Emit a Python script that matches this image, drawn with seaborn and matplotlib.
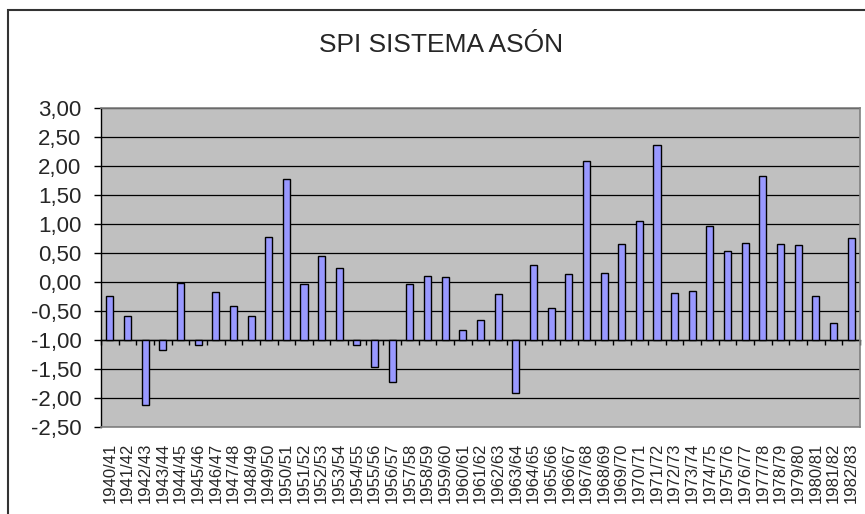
import numpy as np
import pandas as pd
import seaborn as sns
import matplotlib.pyplot as plt
from matplotlib.ticker import FuncFormatter, FixedLocator
from matplotlib.patches import Rectangle

# años hidrológicos y valores del SPI
anios = ['1940/41', '1941/42', '1942/43', '1943/44', '1944/45', '1945/46', '1946/47',
         '1947/48', '1948/49', '1949/50', '1950/51', '1951/52', '1952/53', '1953/54',
         '1954/55', '1955/56', '1956/57', '1957/58', '1958/59', '1959/60', '1960/61',
         '1961/62', '1962/63', '1963/64', '1964/65', '1965/66', '1966/67', '1967/68',
         '1968/69', '1969/70', '1970/71', '1971/72', '1972/73', '1973/74', '1974/75',
         '1975/76', '1976/77', '1977/78', '1978/79', '1979/80', '1980/81', '1981/82',
         '1982/83']
spi = [-0.24, -0.59, -2.12, -1.18, -0.01, -1.09, -0.17,
       -0.42, -0.59, 0.77, 1.78, -0.03, 0.45, 0.24,
       -1.09, -1.46, -1.72, -0.03, 0.11, 0.08, -0.82,
       -0.66, -0.21, -1.92, 0.29, -0.45, 0.13, 2.09,
       0.15, 0.66, 1.05, 2.36, -0.19, -0.15, 0.96,
       0.54, 0.68, 1.83, 0.66, 0.64, -0.24, -0.70,
       0.75]
base = -1.0  # el eje de categorías cruza en -1

df = pd.DataFrame({'Año': anios, 'SPI': spi})
df['alto'] = df['SPI'] - base

sns.set_style('white')
plt.rcParams['font.family'] = ['Liberation Sans', 'DejaVu Sans']

fig = plt.figure(figsize=(8.65, 5.14), dpi=100)
ax = fig.add_axes([0.1168, 0.1693, 0.8774, 0.6206])
ax.set_facecolor('#C0C0C0')

sns.barplot(x='Año', y='alto', data=df, ax=ax, bottom=base, width=0.4,
            color='#9999FF', edgecolor='black', linewidth=1, saturation=1)

ax.set_xlim(-0.5, len(anios) - 0.5)
ax.set_ylim(-2.5, 3.0)
ax.yaxis.set_major_locator(FixedLocator(np.arange(-2.5, 3.01, 0.5)))
ax.yaxis.set_major_formatter(FuncFormatter(lambda v, p: f'{v:.2f}'.replace('.', ',')))
ax.grid(axis='y', color='black', linewidth=0.9)
ax.set_axisbelow(True)
ax.set_xlabel('')
ax.set_ylabel('')

for s in ['top', 'right', 'bottom']:
    ax.spines[s].set_color('#808080')
    ax.spines[s].set_linewidth(1.2)
ax.spines['left'].set_color('black')
ax.spines['left'].set_linewidth(1)

ax.tick_params(axis='y', direction='out', length=5, width=1, color='black',
               labelsize=16, pad=9, left=True)
ax.tick_params(axis='x', length=0, labelsize=12, pad=11, labelrotation=90)

# eje de categorías en -1 con marcas entre barras
frac = (base - (-2.5)) / 5.5
sec = ax.secondary_xaxis(frac)
sec.set_xticks(np.arange(len(anios) + 1) - 0.5)
sec.set_xticklabels([])
sec.tick_params(axis='x', direction='out', length=3.5, width=1, color='black')
sec.spines['bottom'].set_color('black')
sec.spines['bottom'].set_linewidth(1)

fig.text(0.51, 0.912, 'SPI SISTEMA ASÓN', ha='center', va='center', fontsize=19)

# marco del gráfico
fig.patches.append(Rectangle((8 / 865, -0.1), 1.2, 1.1 - 10 / 514, transform=fig.transFigure,
                             fill=False, edgecolor='#333333', linewidth=1.5))

fig.savefig('out.png', dpi=100)
